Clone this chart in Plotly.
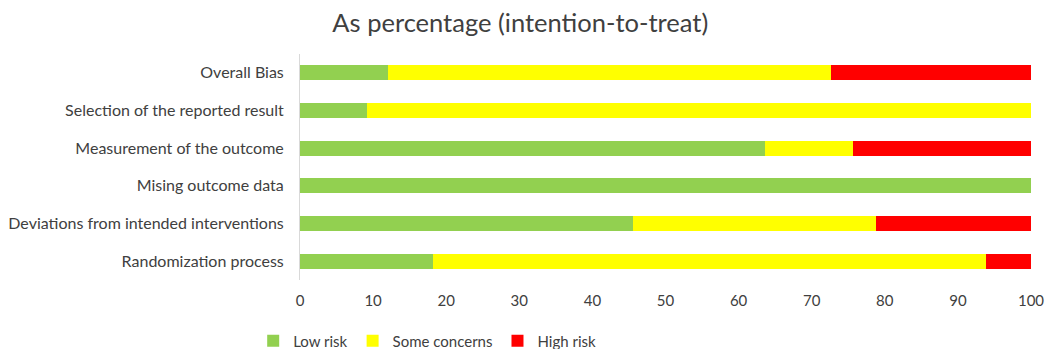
import plotly.graph_objects as go

domains = ["Randomization process", "Deviations from intended interventions", "Mising outcome data",
           "Measurement of the outcome", "Selection of the reported result", "Overall Bias"]
low_risk = [18.2, 45.5, 100.0, 63.6, 9.1, 12.1]
some_concerns = [75.7, 33.3, 0.0, 12.1, 90.9, 60.6]
high_risk = [6.1, 21.2, 0.0, 24.3, 0.0, 27.3]
tick_vals = [0, 10, 20, 30, 40, 50, 60, 70, 80, 90, 100]

font = "Lato, 'Open Sans', sans-serif"
fig = go.Figure()
for name, vals, color in [("Low risk", low_risk, "#92D050"),
                          ("Some concerns", some_concerns, "#FFFF00"),
                          ("High risk", high_risk, "#FF0000")]:
    fig.add_trace(go.Bar(y=domains, x=vals, name=name, orientation="h",
                         marker=dict(color=color, line=dict(width=0))))

fig.update_layout(
    barmode="stack", bargap=0.6,
    width=1037, height=341,
    margin=dict(l=292, r=14, t=46, b=69, autoexpand=False),
    paper_bgcolor="white", plot_bgcolor="white",
    title=dict(text="As percentage (intention-to-treat)", x=0.494, xanchor="center",
               y=0.955, yanchor="middle", font=dict(family=font, size=25.5, color="#404040")),
    xaxis=dict(range=[0, 100], tickvals=tick_vals, showgrid=False, zeroline=False, automargin=False,
               showline=False, ticks="", ticklabelstandoff=10, ticklabeloverflow="allow",
               tickfont=dict(family=font, size=15, color="#404040")),
    yaxis=dict(showgrid=False, showline=True, linecolor="#D9D9D9", linewidth=1, ticks="",
               automargin=False, ticklabelstandoff=12,
               tickfont=dict(family=font, size=16, color="#404040")),
    legend=dict(orientation="h", x=0.174, xanchor="center", y=-0.27, yanchor="middle",
                font=dict(family=font, size=15, color="#404040"), traceorder="normal",
                itemwidth=30),
)
fig.write_html("out.html")
